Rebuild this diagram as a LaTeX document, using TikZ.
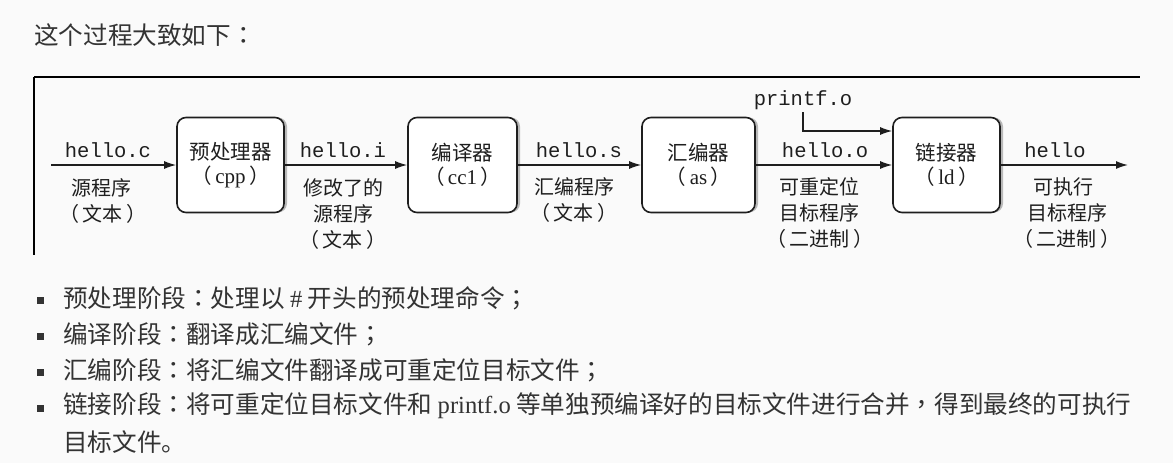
\documentclass[tikz,border=0pt]{standalone}
\usepackage{fontspec}
\setmainfont{Liberation Serif}
\newfontfamily\cjk{Noto Sans CJK SC}
\newfontfamily\cjkp{Noto Sans CJK TC}
\newfontfamily\mono{Liberation Mono}
\usetikzlibrary{arrows.meta,shadows}
\definecolor{pagebg}{RGB}{250,250,250}
\definecolor{txt}{RGB}{51,51,51}
\definecolor{ink}{RGB}{30,30,30}
\newcommand{\pcolon}{{\cjkp ：}}
\newcommand{\psemi}{{\cjkp ；}}
\newcommand{\pcomma}{{\cjkp ，}}
\tikzset{
  proc/.style={draw=ink, line width=1.6pt, rounded corners=9pt, fill=white,
    minimum height=95pt, align=center, inner sep=0pt,
    font=\cjk\fontsize{20.5}{24}\selectfont, text=ink,
    general shadow={fill=gray!55, shadow xshift=3pt, shadow yshift=0pt}},
  flow/.style={draw=ink, line width=1.4pt, -{Latex[length=12pt,width=8pt]}},
  fname/.style={font=\mono\fontsize{20.5}{24}\selectfont, text=ink, anchor=base, inner sep=0pt},
  desc/.style={font=\cjk\fontsize{20}{24}\selectfont, text=ink, inner sep=0pt},
  body/.style={font=\cjk\fontsize{24.6}{28}\selectfont, text=txt, anchor=west, inner sep=0pt},
  bul/.style={fill=txt, minimum size=7pt, inner sep=0pt, draw=none},
  frameline/.style={draw=black, line width=2.2pt},
}
\begin{document}
\begin{tikzpicture}[x=1pt,y=-1pt]
\useasboundingbox (0,0) rectangle (1173,463);
\fill[pagebg] (0,0) rectangle (1173,463);

% title
\node[body] (title) at (34,35) {这个过程大致如下\pcolon};

% frame of the figure
\draw[frameline] (34,77) -- (1140,77);
\draw[frameline, line width=2pt] (34,77) -- (34,255);

% process boxes
\node[proc, minimum width=107pt] (p1) at (230.5,165) {预处理器\\（\,{\rmfamily\fontsize{21}{24}\selectfont cpp}\,）};
\node[proc, minimum width=109pt] (p2) at (462.5,165) {编译器\\（\,{\rmfamily\fontsize{21}{24}\selectfont cc1}\,）};
\node[proc, minimum width=113pt] (p3) at (698.5,165) {汇编器\\（\,{\rmfamily\fontsize{21}{24}\selectfont as}\,）};
\node[proc, minimum width=107pt] (p4) at (946.5,165) {链接器\\（\,{\rmfamily\fontsize{21}{24}\selectfont ld}\,）};

% free ends
\coordinate (src) at (51,165);
\coordinate (out) at (1128,165);
\coordinate (lvl) at (0,131);

% connectors
\draw[flow] (src) -- (p1.west);
\draw[flow] (p1.east) -- (p2.west);
\draw[flow] (p2.east) -- (p3.west);
\draw[flow] (p3.east) -- (p4.west);
\draw[flow] (p4.east) -- (out);

\node[fname] (pf) at (803,105) {printf.o};
\draw[flow] ([yshift=-3pt]pf.south) |- (p4.west |- lvl);

% file names
\node[fname] (fc) at (108,157) {hello.c};
\node[fname] (fi) at (343,157) {hello.i};
\node[fname] (fs) at (579,157) {hello.s};
\node[fname] (fo) at (825,157) {hello.o};
\node[fname] (fe) at (1055,157) {hello};

% descriptions
\node[desc] (d1a) at (101,188) {源程序};
\node[desc] (d1b) at (103,214) {（\,文本\,）};

\node[desc] (d2a) at (343,188) {修改了的};
\node[desc] (d2b) at (343,214) {源程序};
\node[desc] (d2c) at (343,240) {（\,文本\,）};

\node[desc] (d3a) at (574,187) {汇编程序};
\node[desc] (d3b) at (574,213) {（\,文本\,）};

\node[desc] (d4a) at (819,187) {可重定位};
\node[desc] (d4b) at (819,213) {目标程序};
\node[desc] (d4c) at (820,239) {（\,二进制\,）};

\node[desc] (d5a) at (1063,187) {可执行};
\node[desc] (d5b) at (1067,213) {目标程序};
\node[desc] (d5c) at (1067,239) {（\,二进制\,）};

% bullet list
\node[bul] (b1) at (40,300) {};
\node[bul] (b2) at (40,336) {};
\node[bul] (b3) at (40,372) {};
\node[bul] (b4) at (40,408) {};
\node[body] (l1) at (63,298) {预处理阶段\pcolon 处理以~{\rmfamily\#}~开头的预处理命令\psemi};
\node[body] (l2) at (63,334) {编译阶段\pcolon 翻译成汇编文件\psemi};
\node[body] (l3) at (63,370) {汇编阶段\pcolon 将汇编文件翻译成可重定位目标文件\psemi};
\node[body] (l4) at (63,406) {链接阶段\pcolon 将可重定位目标文件和~{\rmfamily printf.o}~等单独预编译好的目标文件进行合并\pcomma 得到最终的可执行};
\node[body] (l5) at (63,442) {目标文件。};
\end{tikzpicture}
\end{document}
